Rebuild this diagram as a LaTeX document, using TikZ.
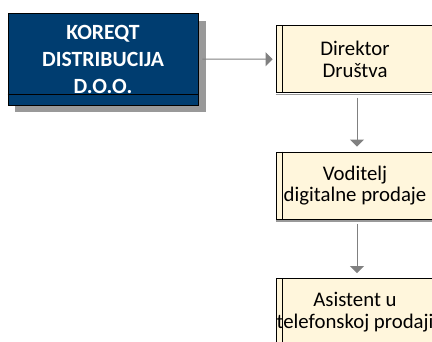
\documentclass[tikz,border=0pt]{standalone}
\usepackage{fontspec}
\setmainfont{Carlito}
\usetikzlibrary{arrows.meta}
\definecolor{navy}{RGB}{0,61,112}
\definecolor{cream}{RGB}{255,246,220}
\definecolor{shadowgray}{RGB}{153,153,153}
\definecolor{arrowgray}{RGB}{128,128,128}
\tikzset{
  topbox/.style={draw=black, line width=0.9pt, fill=navy, text=white, align=center,
    minimum width=190pt, minimum height=92pt, inner sep=0pt,
    font=\bfseries\fontsize{21.7}{27}\selectfont},
  rolebox/.style={draw=black, line width=0.9pt, fill=cream, text=black, align=center,
    minimum width=158pt, minimum height=67pt, inner sep=0pt,
    font=\fontsize{20.8}{21.5}\selectfont},
  arr/.style={draw=arrowgray, line width=1pt, -{Triangle[width=14pt,length=7pt]}},
}
\begin{document}
\begin{tikzpicture}[x=1pt,y=-1pt]
\useasboundingbox (0,0) rectangle (432,341);
\clip (0,0) rectangle (432,341);
% shadow of the company box
\fill[shadowgray] (15,21) rectangle (206,112);
\node[topbox] (a) at (103,59) {KOREQT\\DISTRIBUCIJA\\D.O.O.};
\draw[line width=0.9pt] ([yshift=11pt]a.south west) -- ([yshift=11pt]a.south east);
% role boxes
\node[rolebox] (b) at (355,59.2) {Direktor\\Društva};
\node[rolebox] (c) at (355,185.5) {Voditelj\\digitalne prodaje};
\node[rolebox] (d) at (355,312) {Asistent u\\telefonskoj prodaji};
\foreach \n in {b,c,d}{
  \draw[shadowgray, line width=1.2pt] ([yshift=-1.5pt]\n.south west) -- ([yshift=-1.5pt]\n.south east);
  \draw[line width=0.9pt] ([xshift=7pt]\n.north west) -- ([xshift=7pt]\n.south west);
}
% connectors
\draw[arr] ([xshift=4pt]a.east) -- ([xshift=-3pt]b.west);
\draw[arr] ([xshift=2pt,yshift=-4.5pt]b.south) -- ([xshift=2pt,yshift=5pt]c.north);
\draw[arr] ([xshift=2pt,yshift=-4.5pt]c.south) -- ([xshift=2pt,yshift=5pt]d.north);
\end{tikzpicture}
\end{document}
